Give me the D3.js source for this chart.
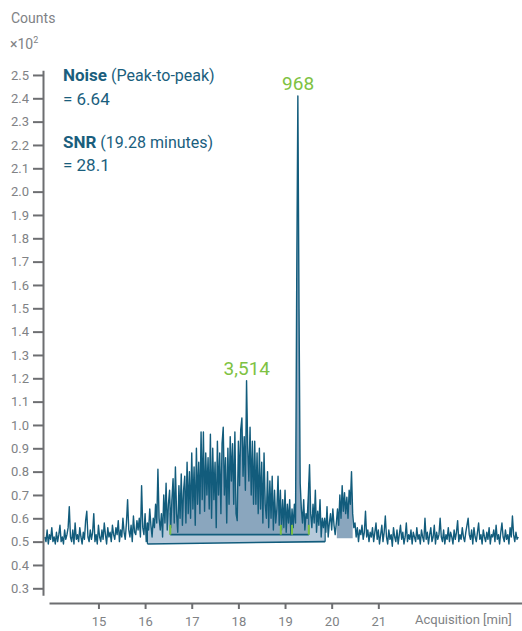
<!DOCTYPE html>
<html>
<head>
<meta charset="utf-8">
<script src="https://cdn.jsdelivr.net/npm/d3@7"></script>
<style>
  html, body { margin: 0; padding: 0; background: #fff; }
  svg { display: block; font-family: Roboto, "Liberation Sans", sans-serif; }
</style>
</head>
<body>
<svg id="chart" width="522" height="631"></svg>
<script>
// ---- Data (counts x10^2) ----
const timeStart = 13.85;   // minutes, first sample
const timeStep = 0.025;    // minutes between samples
const signal = [
  0.52,0.50,0.55,0.49,0.53,0.51,0.56,0.50,0.52,0.49,0.54,0.50,0.53,0.57,0.50,0.52,0.49,0.55,0.51,0.53,
  0.56,0.65,0.52,0.50,0.55,0.49,0.58,0.51,0.53,0.50,0.56,0.52,0.49,0.54,0.51,0.59,0.63,0.52,0.50,0.55,
  0.51,0.54,0.62,0.50,0.53,0.49,0.57,0.52,0.50,0.55,0.51,0.58,0.53,0.49,0.56,0.52,0.54,0.50,0.57,0.53,
  0.51,0.56,0.53,0.59,0.50,0.55,0.52,0.60,0.54,0.51,0.58,0.68,0.55,0.52,0.57,0.50,0.61,0.54,0.53,0.59,
  0.55,0.60,0.52,0.74,0.56,0.53,0.62,0.50,0.58,0.55,0.64,0.57,0.52,0.60,0.56,0.66,0.58,0.81,0.60,0.55,
  0.62,0.52,0.70,0.58,0.75,0.55,0.66,0.72,0.56,0.68,0.77,0.58,0.82,0.62,0.54,0.74,0.60,0.79,0.57,0.72,
  0.78,0.58,0.84,0.62,0.80,0.60,0.88,0.64,0.82,0.57,0.90,0.66,0.84,0.62,0.97,0.68,0.97,0.63,0.88,0.70,
  0.86,0.64,0.96,0.60,0.90,0.68,0.84,0.56,0.93,0.70,0.88,0.62,0.92,0.99,0.70,0.86,0.58,0.90,0.66,0.95,
  0.76,0.92,0.66,0.97,0.62,0.59,0.93,0.74,0.98,1.03,0.78,0.95,0.72,1.19,0.90,0.76,0.99,0.70,0.93,0.66,
  0.93,0.66,0.88,0.62,0.90,0.64,0.84,0.58,0.88,0.66,0.60,0.80,0.56,0.76,0.60,0.78,0.55,0.72,0.58,0.64,
  0.78,0.57,0.72,0.55,0.68,0.56,0.72,0.54,0.66,0.58,0.68,0.53,0.64,0.56,0.66,0.58,1.60,2.41,1.50,0.75,
  0.64,0.58,0.68,0.55,0.62,0.60,0.70,0.83,0.62,0.56,0.66,0.58,0.72,0.54,0.63,0.57,0.68,0.52,0.60,0.56,
  0.60,0.54,0.65,0.52,0.58,0.62,0.55,0.64,0.57,0.53,0.58,0.64,0.57,0.70,0.60,0.74,0.63,0.71,0.62,0.69,
  0.60,0.72,0.66,0.80,0.62,0.56,0.58,0.52,0.56,0.50,0.55,0.53,0.57,0.51,0.54,0.63,0.52,0.55,0.50,0.54,
  0.52,0.56,0.50,0.54,0.58,0.51,0.55,0.49,0.53,0.57,0.50,0.54,0.61,0.52,0.49,0.55,0.51,0.53,0.48,0.56,
  0.52,0.50,0.55,0.49,0.53,0.57,0.51,0.54,0.49,0.52,0.58,0.50,0.53,0.51,0.55,0.49,0.54,0.52,0.50,0.56,
  0.51,0.53,0.49,0.55,0.52,0.50,0.60,0.51,0.54,0.49,0.53,0.56,0.50,0.52,0.57,0.49,0.54,0.51,0.53,0.60,
  0.52,0.50,0.55,0.49,0.53,0.51,0.56,0.50,0.54,0.52,0.49,0.55,0.51,0.54,0.59,0.50,0.53,0.51,0.56,0.52,
  0.50,0.54,0.57,0.60,0.53,0.51,0.55,0.49,0.56,0.52,0.50,0.54,0.58,0.51,0.53,0.49,0.55,0.52,0.50,0.54,
  0.51,0.56,0.49,0.53,0.52,0.55,0.50,0.57,0.51,0.53,0.49,0.54,0.58,0.52,0.50,0.55,0.51,0.53,0.49,0.56,
  0.52,0.61,0.53,0.50,0.54,0.51,0.52
];

// integration regions: start/end time and baseline values at each end
const regionStart = [16.05, 16.54, 20.11];
const regionEnd   = [19.86, 19.51, 20.45];
const regionBase0 = [0.49, 0.53, 0.515];
const regionBase1 = [0.50, 0.53, 0.515];

// peak start/end markers (green)
const markerTimes = [16.54, 18.91, 19.15, 19.51];

// labels
const yTicks = [0.3,0.4,0.5,0.6,0.7,0.8,0.9,1.0,1.1,1.2,1.3,1.4,1.5,1.6,1.7,1.8,1.9,2.0,2.1,2.2,2.3,2.4,2.5];
const xTicks = [15, 16, 17, 18, 19, 20, 21];
const peakLabels = ["968", "3,514"];
const peakLabelTimes = [19.28, 18.18];
const peakLabelValues = [2.41, 1.19];

// ---- Drawing ----
const svg = d3.select("#chart");
const x = d3.scaleLinear().domain([13.94, 24.08]).range([49, 522]);
const y = d3.scaleLinear().domain([0.27, 2.52]).range([595.3, 70.3]);

const data = signal.map((v, i) => ({ t: timeStart + i * timeStep, v }));

const axisColor = "#6d6e71";
const textGray = "#808285";
const teal = "#1a5e7d";
const lineColor = "#125c7c";
const green = "#7ec242";

function interp(t) {
  const i = Math.floor((t - timeStart) / timeStep);
  const a = signal[i], b = signal[i + 1];
  const f = (t - (timeStart + i * timeStep)) / timeStep;
  return a + (b - a) * f;
}

// region fills
const fillColors = ["#b7cadb", "#8aa6be", "#8aa6be"];
regionStart.forEach((s, k) => {
  const e = regionEnd[k];
  const base = t => regionBase0[k] + (regionBase1[k] - regionBase0[k]) * (t - s) / (e - s);
  const pts = [{ t: s, v: Math.max(base(s), interp(s)) }]
    .concat(data.filter(d => d.t > s && d.t < e))
    .concat([{ t: e, v: Math.max(base(e), interp(e)) }]);
  svg.append("path")
    .attr("d", d3.area().x(d => x(d.t)).y0(d => y(base(d.t))).y1(d => y(Math.max(d.v, base(d.t))))(pts))
    .attr("fill", fillColors[k]);
});

// baselines
regionStart.forEach((s, k) => {
  if (k === 2) return;
  svg.append("line")
    .attr("x1", x(s)).attr("y1", y(regionBase0[k]))
    .attr("x2", x(regionEnd[k])).attr("y2", y(regionBase1[k]))
    .attr("stroke", lineColor).attr("stroke-width", 1.6);
  svg.append("line")
    .attr("x1", x(s)).attr("x2", x(s))
    .attr("y1", y(regionBase0[k])).attr("y2", y(Math.max(regionBase0[k], interp(s))))
    .attr("stroke", lineColor).attr("stroke-width", 1.2);
  svg.append("line")
    .attr("x1", x(regionEnd[k])).attr("x2", x(regionEnd[k]))
    .attr("y1", y(regionBase1[k])).attr("y2", y(Math.max(regionBase1[k], interp(regionEnd[k]))))
    .attr("stroke", lineColor).attr("stroke-width", 1.2);
});

// signal
svg.append("path")
  .datum(data)
  .attr("d", d3.line().x(d => x(d.t)).y(d => y(d.v)))
  .attr("fill", "none")
  .attr("stroke", lineColor)
  .attr("stroke-width", 1.4)
  .attr("stroke-linejoin", "round");

// markers
svg.selectAll(".marker").data(markerTimes).join("line")
  .attr("x1", d => x(d)).attr("x2", d => x(d))
  .attr("y1", y(0.53)).attr("y2", y(0.572))
  .attr("stroke", green).attr("stroke-width", 2);

// y axis
const yAxis = svg.append("g")
  .attr("transform", "translate(43,0)")
  .call(d3.axisLeft(y).tickValues(yTicks).tickFormat(d3.format(".1f")).tickSize(10).tickSizeOuter(0).tickPadding(4));
yAxis.select(".domain").attr("stroke", axisColor).attr("stroke-width", 2);
yAxis.selectAll(".tick line").attr("stroke", axisColor).attr("stroke-width", 2);
yAxis.selectAll(".tick text").attr("fill", textGray).attr("font-size", 13).attr("font-family", "Roboto");

// x axis
const xAxis = svg.append("g")
  .attr("transform", "translate(0,603)")
  .call(d3.axisBottom(x).tickValues(xTicks).tickFormat(d3.format("d")).tickSize(6).tickSizeOuter(0).tickPadding(8));
xAxis.select(".domain").attr("stroke", axisColor).attr("stroke-width", 2);
xAxis.selectAll(".tick line").attr("stroke", axisColor).attr("stroke-width", 2);
xAxis.selectAll(".tick text").attr("fill", textGray).attr("font-size", 13).attr("font-family", "Roboto");

svg.append("text").attr("x", 415).attr("y", 624)
  .attr("fill", textGray).attr("font-size", 13).text("Acquisition [min]");

// y-axis title
svg.append("text").attr("x", 11).attr("y", 23)
  .attr("fill", textGray).attr("font-size", 14).text("Counts");
const mult = svg.append("text").attr("x", 10).attr("y", 49)
  .attr("fill", textGray).attr("font-size", 14);
mult.append("tspan").text("×10");
mult.append("tspan").attr("font-size", 9).attr("dy", -6).text("2");

// annotations
const ann = svg.append("g").attr("fill", teal).attr("font-size", 17);
const t1 = ann.append("text").attr("x", 63).attr("y", 81);
t1.append("tspan").attr("font-weight", "bold").text("Noise");
t1.append("tspan").text(" (Peak-to-peak)").attr("font-size", 16);
ann.append("text").attr("x", 63).attr("y", 105).text("= 6.64");
const t2 = ann.append("text").attr("x", 63).attr("y", 148);
t2.append("tspan").attr("font-weight", "bold").text("SNR");
t2.append("tspan").text(" (19.28 minutes)").attr("font-size", 16);
ann.append("text").attr("x", 63).attr("y", 171).text("= 28.1");

// peak labels
svg.selectAll(".plabel").data(peakLabels).join("text")
  .attr("x", (d, i) => x(peakLabelTimes[i]))
  .attr("y", (d, i) => y(peakLabelValues[i]) - 6)
  .attr("text-anchor", "middle")
  .attr("fill", green)
  .attr("font-size", 19)
  .text(d => d);
</script>
</body>
</html>
